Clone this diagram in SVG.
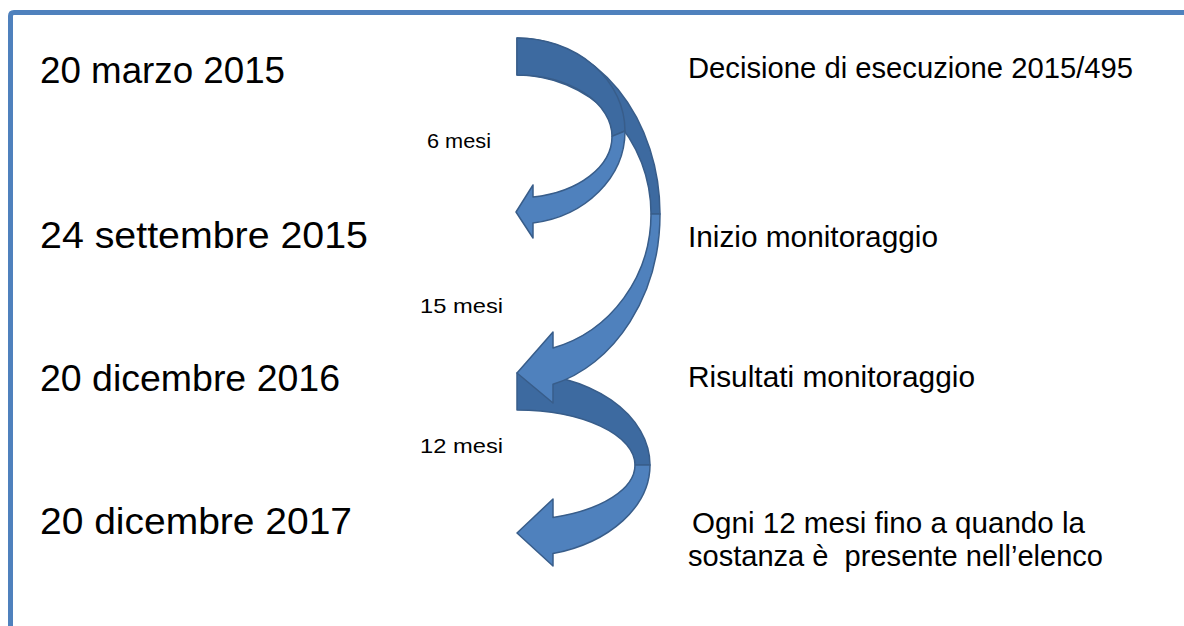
<svg xmlns="http://www.w3.org/2000/svg" width="1184" height="626" viewBox="0 0 1184 626">
  <style>
    .big { font-family: "Liberation Sans", Arial, sans-serif; font-size: 36px; fill: #000; }
    .desc { font-family: "Liberation Sans", Arial, sans-serif; font-size: 29px; fill: #000; }
    .small { font-family: "Liberation Sans", Arial, sans-serif; font-size: 21px; fill: #000; }
    .back { fill: #3d6aa0; stroke: #385d8a; stroke-width: 1.5; stroke-linejoin: round; }
    .front { fill: #4f81bd; stroke: #385d8a; stroke-width: 1.5; stroke-linejoin: round; }
  </style>
  <rect x="0" y="0" width="1184" height="626" fill="#ffffff"/>
  <path d="M10.5,640 L10.5,16 Q10.5,12.5 14,12.5 L1200,12.5" fill="none" stroke="#4f81bd" stroke-width="5"/>

  <g id="connectors">
    <g id="arrow-12-mesi">
      <path class="back" d="M517,373 A133,92 0 0 1 650,465 L635,465 A118,55 0 0 0 517,410 Z"/>
      <path class="front" d="M650,465 A133,92 0 0 1 553,553.6 L553,566 L517,533 L553,499 L553,517.4 A118,55 0 0 0 635,465 Z"/>
    </g>
    <g id="arrow-15-mesi">
      <path class="back" d="M517,38 A143,176 0 0 1 660,214 L651,214 A134,139 0 0 0 517,75 Z"/>
      <path class="front" d="M660,214 A143,176 0 0 1 553,384.3 L553,403 L517,373 L553,332 L553,348 A134,139 0 0 0 651,214 Z"/>
    </g>
    <g id="arrow-6-mesi">
      <path class="back" d="M517,38 A108,93 0 0 1 625,131 L612,136.4 A95,61.4 0 0 0 517,75 Z"/>
      <path class="front" d="M625,131 A108,93 0 0 1 533,223 L533,238 L516,212 L533,185 L533,197 A95,61.4 0 0 0 612,136.4 Z"/>
    </g>
  </g>

  <g id="node-2015-03">
    <text class="big" x="40" y="83" textLength="245" lengthAdjust="spacingAndGlyphs">20 marzo 2015</text>
    <text class="desc" x="688" y="78" textLength="445" lengthAdjust="spacingAndGlyphs">Decisione di esecuzione 2015/495</text>
  </g>
  <g id="label-6">
    <text class="small" x="427" y="148" textLength="64" lengthAdjust="spacingAndGlyphs">6 mesi</text>
  </g>
  <g id="node-2015-09">
    <text class="big" x="40" y="248" textLength="328" lengthAdjust="spacingAndGlyphs">24 settembre 2015</text>
    <text class="desc" x="688" y="247" textLength="250" lengthAdjust="spacingAndGlyphs">Inizio monitoraggio</text>
  </g>
  <g id="label-15">
    <text class="small" x="420" y="313" textLength="83" lengthAdjust="spacingAndGlyphs">15 mesi</text>
  </g>
  <g id="node-2016-12">
    <text class="big" x="40" y="391" textLength="300" lengthAdjust="spacingAndGlyphs">20 dicembre 2016</text>
    <text class="desc" x="688" y="387" textLength="287" lengthAdjust="spacingAndGlyphs">Risultati monitoraggio</text>
  </g>
  <g id="label-12">
    <text class="small" x="420" y="453" textLength="83" lengthAdjust="spacingAndGlyphs">12 mesi</text>
  </g>
  <g id="node-2017-12">
    <text class="big" x="40" y="534" textLength="312" lengthAdjust="spacingAndGlyphs">20 dicembre 2017</text>
    <text class="desc" x="692" y="533" textLength="393" lengthAdjust="spacingAndGlyphs">Ogni 12 mesi fino a quando la</text>
    <text class="desc" x="688" y="566" textLength="415" lengthAdjust="spacingAndGlyphs" xml:space="preserve">sostanza è  presente nell’elenco</text>
  </g>
</svg>
